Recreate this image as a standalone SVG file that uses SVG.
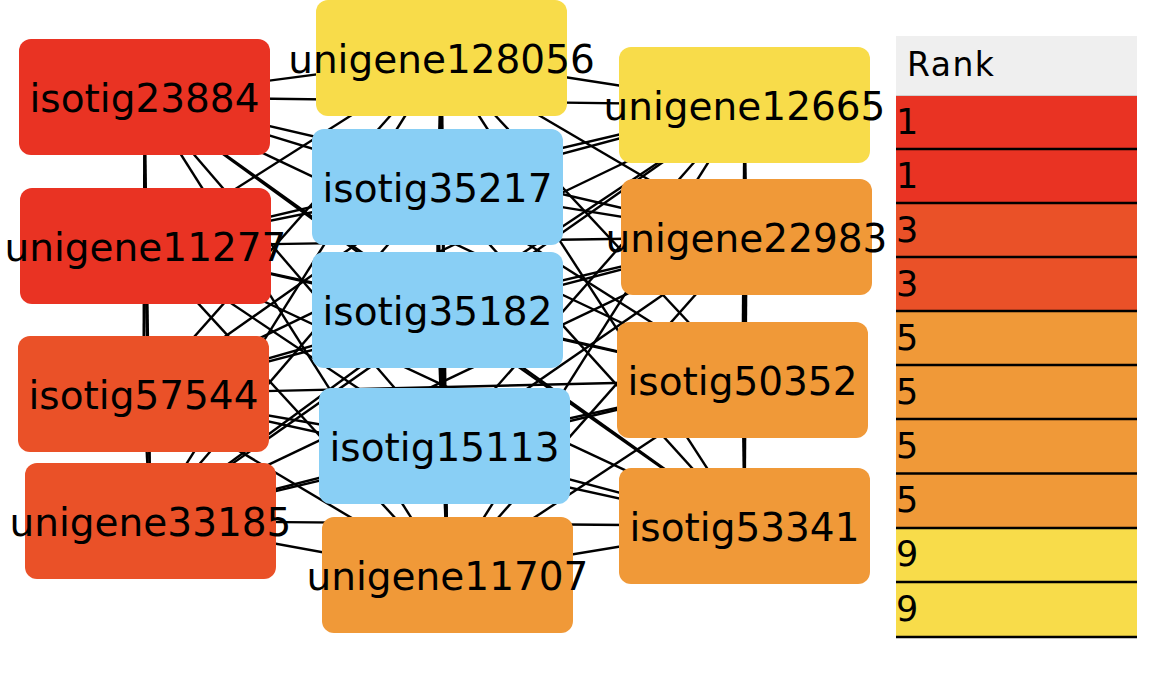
<svg xmlns="http://www.w3.org/2000/svg" width="1152" height="682" viewBox="0 0 1152 682">
<style>
.e{stroke:#000;stroke-width:2.4;fill:none}
.n text{font-family:"DejaVu Sans","Verdana",sans-serif;font-size:39px;fill:#000;text-anchor:middle}
.r1{fill:#E93323}.r3{fill:#EA5128}.r5{fill:#F09938}.r9{fill:#F8DC4A}.bl{fill:#89CFF5}
.t{font-family:"DejaVu Sans","Verdana",sans-serif;fill:#000}
.sep{stroke:#000;stroke-width:2.5}
</style>
<rect width="1152" height="682" fill="#fff"/>
<g id="connectors">
<line class="e" x1="144.5" y1="97" x2="145.5" y2="246"/>
<line class="e" x1="144.5" y1="97" x2="143.5" y2="394"/>
<line class="e" x1="144.5" y1="97" x2="150.5" y2="521"/>
<line class="e" x1="144.5" y1="97" x2="441.5" y2="58"/>
<line class="e" x1="144.5" y1="97" x2="437.5" y2="187"/>
<line class="e" x1="144.5" y1="97" x2="437.5" y2="310"/>
<line class="e" x1="144.5" y1="97" x2="444.5" y2="446"/>
<line class="e" x1="144.5" y1="97" x2="447.5" y2="575"/>
<line class="e" x1="144.5" y1="97" x2="744.5" y2="105"/>
<line class="e" x1="144.5" y1="97" x2="746.5" y2="237"/>
<line class="e" x1="144.5" y1="97" x2="742.5" y2="380"/>
<line class="e" x1="144.5" y1="97" x2="744.5" y2="526"/>
<line class="e" x1="145.5" y1="246" x2="143.5" y2="394"/>
<line class="e" x1="145.5" y1="246" x2="150.5" y2="521"/>
<line class="e" x1="145.5" y1="246" x2="441.5" y2="58"/>
<line class="e" x1="145.5" y1="246" x2="437.5" y2="187"/>
<line class="e" x1="145.5" y1="246" x2="437.5" y2="310"/>
<line class="e" x1="145.5" y1="246" x2="444.5" y2="446"/>
<line class="e" x1="145.5" y1="246" x2="447.5" y2="575"/>
<line class="e" x1="145.5" y1="246" x2="744.5" y2="105"/>
<line class="e" x1="145.5" y1="246" x2="746.5" y2="237"/>
<line class="e" x1="145.5" y1="246" x2="742.5" y2="380"/>
<line class="e" x1="145.5" y1="246" x2="744.5" y2="526"/>
<line class="e" x1="143.5" y1="394" x2="150.5" y2="521"/>
<line class="e" x1="143.5" y1="394" x2="441.5" y2="58"/>
<line class="e" x1="143.5" y1="394" x2="437.5" y2="187"/>
<line class="e" x1="143.5" y1="394" x2="437.5" y2="310"/>
<line class="e" x1="143.5" y1="394" x2="444.5" y2="446"/>
<line class="e" x1="143.5" y1="394" x2="447.5" y2="575"/>
<line class="e" x1="143.5" y1="394" x2="744.5" y2="105"/>
<line class="e" x1="143.5" y1="394" x2="746.5" y2="237"/>
<line class="e" x1="143.5" y1="394" x2="742.5" y2="380"/>
<line class="e" x1="143.5" y1="394" x2="744.5" y2="526"/>
<line class="e" x1="150.5" y1="521" x2="441.5" y2="58"/>
<line class="e" x1="150.5" y1="521" x2="437.5" y2="187"/>
<line class="e" x1="150.5" y1="521" x2="437.5" y2="310"/>
<line class="e" x1="150.5" y1="521" x2="444.5" y2="446"/>
<line class="e" x1="150.5" y1="521" x2="447.5" y2="575"/>
<line class="e" x1="150.5" y1="521" x2="744.5" y2="105"/>
<line class="e" x1="150.5" y1="521" x2="746.5" y2="237"/>
<line class="e" x1="150.5" y1="521" x2="742.5" y2="380"/>
<line class="e" x1="150.5" y1="521" x2="744.5" y2="526"/>
<line class="e" x1="441.5" y1="58" x2="437.5" y2="187"/>
<line class="e" x1="441.5" y1="58" x2="437.5" y2="310"/>
<line class="e" x1="441.5" y1="58" x2="444.5" y2="446"/>
<line class="e" x1="441.5" y1="58" x2="447.5" y2="575"/>
<line class="e" x1="441.5" y1="58" x2="744.5" y2="105"/>
<line class="e" x1="441.5" y1="58" x2="746.5" y2="237"/>
<line class="e" x1="441.5" y1="58" x2="742.5" y2="380"/>
<line class="e" x1="441.5" y1="58" x2="744.5" y2="526"/>
<line class="e" x1="437.5" y1="187" x2="437.5" y2="310"/>
<line class="e" x1="437.5" y1="187" x2="444.5" y2="446"/>
<line class="e" x1="437.5" y1="187" x2="447.5" y2="575"/>
<line class="e" x1="437.5" y1="187" x2="744.5" y2="105"/>
<line class="e" x1="437.5" y1="187" x2="746.5" y2="237"/>
<line class="e" x1="437.5" y1="187" x2="742.5" y2="380"/>
<line class="e" x1="437.5" y1="187" x2="744.5" y2="526"/>
<line class="e" x1="437.5" y1="310" x2="444.5" y2="446"/>
<line class="e" x1="437.5" y1="310" x2="447.5" y2="575"/>
<line class="e" x1="437.5" y1="310" x2="744.5" y2="105"/>
<line class="e" x1="437.5" y1="310" x2="746.5" y2="237"/>
<line class="e" x1="437.5" y1="310" x2="742.5" y2="380"/>
<line class="e" x1="437.5" y1="310" x2="744.5" y2="526"/>
<line class="e" x1="444.5" y1="446" x2="447.5" y2="575"/>
<line class="e" x1="444.5" y1="446" x2="744.5" y2="105"/>
<line class="e" x1="444.5" y1="446" x2="746.5" y2="237"/>
<line class="e" x1="444.5" y1="446" x2="742.5" y2="380"/>
<line class="e" x1="444.5" y1="446" x2="744.5" y2="526"/>
<line class="e" x1="447.5" y1="575" x2="744.5" y2="105"/>
<line class="e" x1="447.5" y1="575" x2="746.5" y2="237"/>
<line class="e" x1="447.5" y1="575" x2="742.5" y2="380"/>
<line class="e" x1="447.5" y1="575" x2="744.5" y2="526"/>
<line class="e" x1="744.5" y1="105" x2="746.5" y2="237"/>
<line class="e" x1="744.5" y1="105" x2="742.5" y2="380"/>
<line class="e" x1="744.5" y1="105" x2="744.5" y2="526"/>
<line class="e" x1="746.5" y1="237" x2="742.5" y2="380"/>
<line class="e" x1="746.5" y1="237" x2="744.5" y2="526"/>
<line class="e" x1="742.5" y1="380" x2="744.5" y2="526"/>
</g>
<g id="isotig23884" class="n"><rect class="r1" x="19" y="39" width="251" height="116" rx="12"/><text x="144.5" y="112">isotig23884</text></g>
<g id="unigene11277" class="n"><rect class="r1" x="20" y="188" width="251" height="116" rx="12"/><text x="145.5" y="261">unigene11277</text></g>
<g id="isotig57544" class="n"><rect class="r3" x="18" y="336" width="251" height="116" rx="12"/><text x="143.5" y="409">isotig57544</text></g>
<g id="unigene33185" class="n"><rect class="r3" x="25" y="463" width="251" height="116" rx="12"/><text x="150.5" y="536">unigene33185</text></g>
<g id="unigene128056" class="n"><rect class="r9" x="316" y="0" width="251" height="116" rx="12"/><text x="441.5" y="73">unigene128056</text></g>
<g id="isotig35217" class="n"><rect class="bl" x="312" y="129" width="251" height="116" rx="12"/><text x="437.5" y="202">isotig35217</text></g>
<g id="isotig35182" class="n"><rect class="bl" x="312" y="252" width="251" height="116" rx="12"/><text x="437.5" y="325">isotig35182</text></g>
<g id="isotig15113" class="n"><rect class="bl" x="319" y="388" width="251" height="116" rx="12"/><text x="444.5" y="461">isotig15113</text></g>
<g id="unigene11707" class="n"><rect class="r5" x="322" y="517" width="251" height="116" rx="12"/><text x="447.5" y="590">unigene11707</text></g>
<g id="unigene12665" class="n"><rect class="r9" x="619" y="47" width="251" height="116" rx="12"/><text x="744.5" y="120">unigene12665</text></g>
<g id="unigene22983" class="n"><rect class="r5" x="621" y="179" width="251" height="116" rx="12"/><text x="746.5" y="252">unigene22983</text></g>
<g id="isotig50352" class="n"><rect class="r5" x="617" y="322" width="251" height="116" rx="12"/><text x="742.5" y="395">isotig50352</text></g>
<g id="isotig53341" class="n"><rect class="r5" x="619" y="468" width="251" height="116" rx="12"/><text x="744.5" y="541">isotig53341</text></g>
<g id="rank-table">
<rect x="896" y="36" width="241" height="60" fill="#EFEFEF"/>
<line x1="896" y1="95.5" x2="1137" y2="95.5" stroke="#D0D0D0" stroke-width="1"/>
<text class="t" x="907" y="76" font-size="33" letter-spacing="1.5">Rank</text>
<rect class="r1" x="896" y="96" width="241" height="54"/>
<rect class="r1" x="896" y="150" width="241" height="54"/>
<rect class="r3" x="896" y="204" width="241" height="54"/>
<rect class="r3" x="896" y="258" width="241" height="54"/>
<rect class="r5" x="896" y="312" width="241" height="54"/>
<rect class="r5" x="896" y="366" width="241" height="54"/>
<rect class="r5" x="896" y="420" width="241" height="54"/>
<rect class="r5" x="896" y="474" width="241" height="54"/>
<rect class="r9" x="896" y="528" width="241" height="55"/>
<rect class="r9" x="896" y="583" width="241" height="54"/>
<line class="sep" x1="896" y1="149" x2="1137" y2="149"/>
<line class="sep" x1="896" y1="203" x2="1137" y2="203"/>
<line class="sep" x1="896" y1="257" x2="1137" y2="257"/>
<line class="sep" x1="896" y1="311" x2="1137" y2="311"/>
<line class="sep" x1="896" y1="365" x2="1137" y2="365"/>
<line class="sep" x1="896" y1="419" x2="1137" y2="419"/>
<line class="sep" x1="896" y1="473.5" x2="1137" y2="473.5"/>
<line class="sep" x1="896" y1="528" x2="1137" y2="528"/>
<line class="sep" x1="896" y1="582" x2="1137" y2="582"/>
<line class="sep" x1="896" y1="637" x2="1137" y2="637"/>
<text class="t" x="896" y="134" font-size="35">1</text>
<text class="t" x="896" y="188" font-size="35">1</text>
<text class="t" x="896" y="242" font-size="35">3</text>
<text class="t" x="896" y="296" font-size="35">3</text>
<text class="t" x="896" y="350" font-size="35">5</text>
<text class="t" x="896" y="404" font-size="35">5</text>
<text class="t" x="896" y="458" font-size="35">5</text>
<text class="t" x="896" y="512" font-size="35">5</text>
<text class="t" x="896" y="566" font-size="35">9</text>
<text class="t" x="896" y="621" font-size="35">9</text>
</g>
</svg>
